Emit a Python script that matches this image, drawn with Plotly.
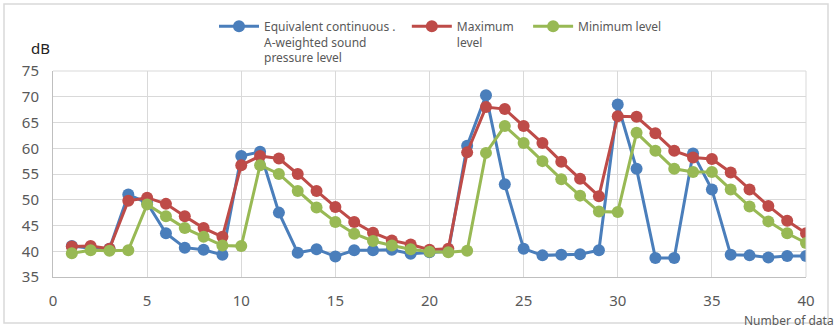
import plotly.graph_objects as go

x_vals = list(range(1, 41))

leq = [41.0, 40.6, 40.5, 51.0, 49.4, 43.5, 40.7, 40.3, 39.3, 58.5,
       59.3, 47.5, 39.7, 40.4, 39.0, 40.2, 40.2, 40.3, 39.5, 39.8,
       40.0, 60.5, 70.3, 53.0, 40.5, 39.2, 39.3, 39.4, 40.2, 68.5,
       56.0, 38.7, 38.7, 59.0, 52.0, 39.3, 39.2, 38.8, 39.1, 39.1]

lmax = [40.9, 41.0, 40.5, 49.8, 50.4, 49.2, 46.8, 44.5, 42.8, 56.7,
        58.5, 58.0, 55.0, 51.7, 48.6, 45.7, 43.6, 42.1, 41.3, 40.3,
        40.5, 59.2, 68.0, 67.6, 64.3, 61.0, 57.4, 54.1, 50.7, 66.2,
        66.1, 62.9, 59.5, 58.2, 57.9, 55.3, 52.0, 48.8, 45.9, 43.5]

lmin = [39.6, 40.2, 40.1, 40.2, 49.1, 46.8, 44.5, 42.8, 41.1, 41.0,
        56.7, 55.0, 51.7, 48.5, 45.7, 43.4, 42.0, 41.1, 40.4, 39.9,
        39.8, 40.1, 59.1, 64.3, 61.0, 57.5, 54.0, 50.8, 47.7, 47.6,
        63.0, 59.5, 56.0, 55.4, 55.4, 52.0, 48.7, 45.8, 43.5, 41.6]

NB = "\u00a0"
names = ["Equivalent continuous ." + NB * 2 + "<br>A-weighted sound<br>pressure level",
         "Maximum" + NB * 3 + "<br>level",
         "Minimum level"]
colors = ["#4A7EBB", "#BE4B48", "#98B954"]
x_ticks = [0, 5, 10, 15, 20, 25, 30, 35, 40]
y_ticks = [35, 40, 45, 50, 55, 60, 65, 70, 75]

fig = go.Figure()
for ys, nm, c in zip([leq, lmax, lmin], names, colors):
    fig.add_trace(go.Scatter(
        x=x_vals, y=ys, name=nm, mode="lines+markers",
        line=dict(color=c, width=3),
        marker=dict(color=c, size=12),
    ))

W, H = 840, 329
L, R, T, B = 53, 34, 71, 52
pw, ph = W - L - R, H - T - B

def px(xp):
    return (xp - L) / pw

def py(yp):
    return (H - B - yp) / ph

fig.update_layout(
    width=W, height=H,
    margin=dict(l=L, r=R, t=T, b=B),
    paper_bgcolor="white", plot_bgcolor="white",
    font=dict(family="Noto Sans", color="#595959"),
    showlegend=True,
    legend=dict(
        orientation="h", x=px(214), y=py(12), xanchor="left", yanchor="top",
        font=dict(size=12, color="#595959"), valign="top", itemwidth=40,
        bgcolor="rgba(0,0,0,0)", tracegroupgap=0,
    ),
    xaxis=dict(
        range=[0, 40], tickvals=x_ticks, showgrid=True, gridcolor="#D9D9D9",
        gridwidth=1, showline=True, linecolor="#BFBFBF", zeroline=False,
        ticks="outside", ticklen=10, tickcolor="rgba(0,0,0,0)",
        tickfont=dict(size=15, color="#595959"), mirror=False,
    ),
    yaxis=dict(
        range=[35, 75], tickvals=y_ticks, showgrid=True, gridcolor="#D9D9D9",
        gridwidth=1, showline=True, linecolor="#BFBFBF", zeroline=False,
        ticks="outside", ticklen=10, tickcolor="rgba(0,0,0,0)",
        tickfont=dict(size=15, color="#595959"),
    ),
    shapes=[
        dict(type="rect", xref="paper", yref="paper",
             x0=px(4), x1=px(828), y0=py(323), y1=py(4),
             line=dict(color="#D9D9D9", width=1.5), layer="below"),
        dict(type="line", xref="paper", yref="paper",
             x0=1, x1=1, y0=0, y1=1, line=dict(color="#D9D9D9", width=1)),
        dict(type="line", xref="paper", yref="paper",
             x0=0, x1=1, y0=1, y1=1, line=dict(color="#D9D9D9", width=1)),
    ],
    annotations=[
        dict(text="dB", xref="paper", yref="paper", x=px(40), y=py(48),
             xanchor="center", yanchor="middle", showarrow=False,
             font=dict(size=15, color="#222222")),
        dict(text="Number of data", xref="paper", yref="paper", x=px(836),
             y=py(320), xanchor="right", yanchor="middle", showarrow=False,
             font=dict(size=12, color="#595959")),
    ],
)

fig.write_html("out.html")
